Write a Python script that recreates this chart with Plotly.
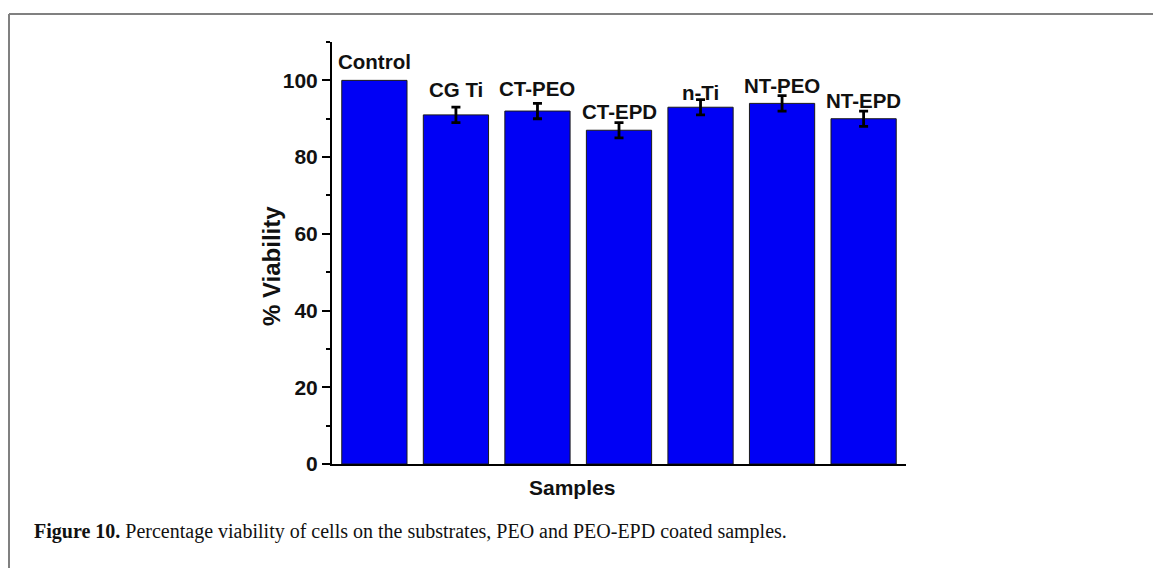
import plotly.graph_objects as go

# Cell viability per sample
samples = ["Control", "CG Ti", "CT-PEO", "CT-EPD", "n-Ti", "NT-PEO", "NT-EPD"]
viability = [100, 91, 92, 87, 93, 94, 90]
viability_err = [None, 2, 2, 2, 2, 2, 2]

# vertical gap (px) between each bar top and its name label
label_gap_px = [19, 25, 23, 19, 15, 18, 18]

W, H = 1153, 568
L, R, T, B = 332, 247, 42, 104
pw, ph = W - L - R, H - T - B

def px_x(x):
    return (x - L) / pw

def px_y(y):
    return (H - B - y) / ph

sans = "Liberation Sans, Arial, sans-serif"
xs = list(range(len(samples)))

fig = go.Figure()
fig.add_trace(go.Bar(
    x=xs,
    y=viability,
    marker=dict(color="#0000F5", line=dict(color="#1a1a1a", width=1)),
    width=0.8,
    hoverinfo="skip",
))

# error bars only where a deviation was measured
err_idx = [i for i, e in enumerate(viability_err) if e is not None]
fig.add_trace(go.Scatter(
    x=[xs[i] for i in err_idx],
    y=[viability[i] for i in err_idx],
    mode="markers",
    marker=dict(size=1, opacity=0),
    error_y=dict(type="data", array=[viability_err[i] for i in err_idx],
                 visible=True, color="black", thickness=2.8, width=4.5),
    hoverinfo="skip",
))

annotations = []
for i, (name, v, gap) in enumerate(zip(samples, viability, label_gap_px)):
    annotations.append(dict(
        x=i, y=v, xref="x", yref="y", text=name, showarrow=False,
        yanchor="middle", yshift=gap,
        font=dict(family=sans, size=20.5, color="#111", weight="bold"),
    ))

# axis titles
annotations.append(dict(
    x=px_x(572), y=px_y(487), xref="paper", yref="paper", text="Samples",
    showarrow=False, xanchor="center", yanchor="middle",
    font=dict(family=sans, size=21, color="#111", weight="bold"),
))
annotations.append(dict(
    x=px_x(271), y=px_y(266), xref="paper", yref="paper", text="% Viability",
    showarrow=False, xanchor="center", yanchor="middle", textangle=-90,
    font=dict(family=sans, size=24, color="#111", weight="bold"),
))

# caption
annotations.append(dict(
    x=px_x(32), y=px_y(531), xref="paper", yref="paper",
    text="<b>Figure 10.</b> Percentage viability of cells on the substrates, PEO and PEO-EPD coated samples.",
    showarrow=False, xanchor="left", yanchor="middle",
    font=dict(family="Liberation Serif, Times New Roman, serif", size=20, color="#111"),
))

# page frame (top and left rules)
shapes = [
    dict(type="line", xref="paper", yref="paper",
         x0=px_x(9), x1=px_x(1160), y0=px_y(14), y1=px_y(14),
         line=dict(color="#808080", width=2)),
    dict(type="line", xref="paper", yref="paper",
         x0=px_x(9), x1=px_x(9), y0=px_y(14), y1=px_y(575),
         line=dict(color="#808080", width=2)),
]

fig.update_layout(
    width=W, height=H,
    margin=dict(l=L, r=R, t=T, b=B, pad=0),
    plot_bgcolor="white", paper_bgcolor="white",
    showlegend=False,
    annotations=annotations,
    shapes=shapes,
    xaxis=dict(
        range=[-0.52, 6.52], showticklabels=False, ticks="",
        showline=True, linecolor="black", linewidth=2,
        showgrid=False, zeroline=False, fixedrange=True,
    ),
    yaxis=dict(
        range=[0, 110], tickvals=[0, 20, 40, 60, 80, 100],
        ticks="outside", ticklen=8, tickwidth=2, tickcolor="black",
        minor=dict(tickvals=[10, 30, 50, 70, 90, 110], ticks="outside",
                   ticklen=4, tickwidth=2, tickcolor="black"),
        showline=True, linecolor="black", linewidth=2,
        showgrid=False, zeroline=False, fixedrange=True,
        tickfont=dict(family=sans, size=21, color="#111", weight="bold"),
    ),
)

fig.write_html("out.html")
